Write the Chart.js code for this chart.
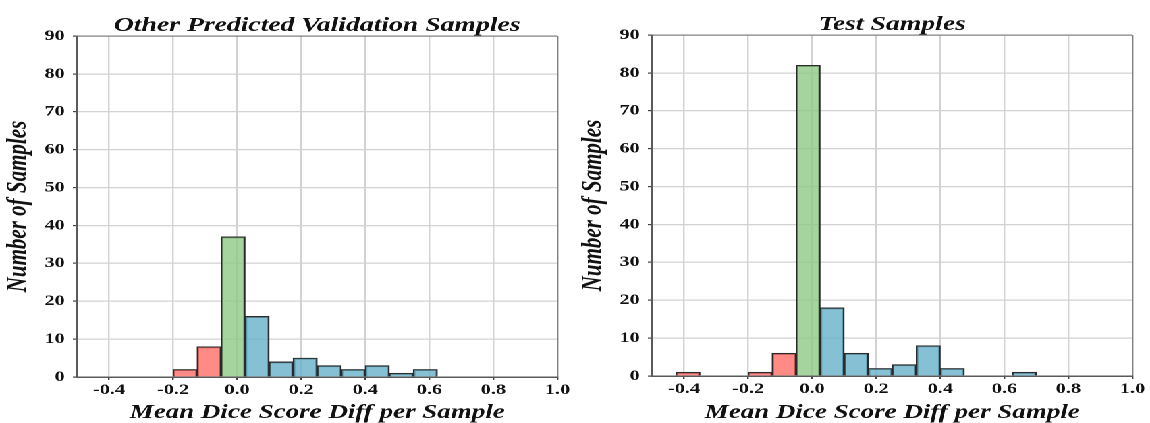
<!DOCTYPE html>
<html>
<head>
<meta charset="utf-8">
<script src="https://cdn.jsdelivr.net/npm/chart.js@4.4.0/dist/chart.umd.min.js"></script>
<style>
    html, body { margin: 0; padding: 0; background: #fff; }
    /* the figure is drawn narrow and stretched sideways to 1150px */
    #figure {
        width: 852px;
        height: 423px;
        display: flex;
        transform: scaleX(1.3498);
        transform-origin: 0 0;
    }
    .panel { position: relative; width: 426px; height: 423px; }
</style>
</head>
<body>
<div id="figure">
    <div class="panel"><canvas id="valChart"></canvas></div>
    <div class="panel"><canvas id="testChart"></canvas></div>
</div>
<script>
'use strict';

const binWidth = 0.075;
const xTicks = [-0.4, -0.2, 0.0, 0.2, 0.4, 0.6, 0.8, 1.0];

// other predicted validation samples: bin start -> count
const valBinStarts = [-0.2, -0.125, -0.05, 0.025, 0.1, 0.175, 0.25, 0.325, 0.4, 0.475, 0.55];
const valCounts = [2, 8, 37, 16, 4, 5, 3, 2, 3, 1, 2];

// test samples
const testBinStarts = [-0.425, -0.2, -0.125, -0.05, 0.025, 0.1, 0.175, 0.25, 0.325, 0.4, 0.625];
const testCounts = [1, 1, 6, 82, 18, 6, 2, 3, 8, 2, 1];

const RED = 'rgba(255, 109, 104, 0.8)';
const GREEN = 'rgba(142, 201, 134, 0.8)';
const BLUE = 'rgba(104, 176, 201, 0.8)';

function binColor(start) {
    if (start + binWidth <= -0.05 + 1e-9) return RED;
    if (start < 0.025 - 1e-9) return GREEN;
    return BLUE;
}

const serif = '"Liberation Serif", "Times New Roman", serif';
const tickFont = { family: serif, size: 15, weight: 'bold' };
const titleFont = { family: serif, size: 20.5, weight: 'bold', style: 'italic', lineHeight: 1.2 };

// keep the chart title centred over the plot area instead of the whole canvas
const centerTitle = {
    id: 'centerTitle',
    afterLayout(chart) {
        if (chart.titleBlock) {
            chart.titleBlock.left = chart.chartArea.left;
            chart.titleBlock.right = chart.chartArea.right;
        }
    },
};

function makeHist(id, title, starts, counts, box) {
    const points = starts.map((s, i) => ({ x: s + binWidth / 2, y: counts[i] }));

    return new Chart(document.getElementById(id), {
        type: 'bar',
        data: {
            datasets: [{
                data: points,
                backgroundColor: starts.map(binColor),
                borderColor: '#2a2a2a',
                borderWidth: 1.2,
                barPercentage: 1.0,
                categoryPercentage: 1.0,
            }],
        },
        plugins: [centerTitle],
        options: {
            responsive: true,
            maintainAspectRatio: false,
            devicePixelRatio: 2,
            animation: false,
            layout: { padding: { left: 0, right: 426 - box.right, top: 0, bottom: 0 } },
            plugins: {
                legend: { display: false },
                tooltip: { enabled: false },
                title: {
                    display: true,
                    text: title,
                    color: '#111',
                    font: titleFont,
                    padding: { top: box.top - 24.6 + 2, bottom: -2 },
                },
            },
            scales: {
                x: {
                    type: 'linear',
                    min: -0.5,
                    max: 1.0,
                    offset: false,
                    afterBuildTicks: (scale) => {
                        scale.ticks = xTicks.map(v => ({ value: v }));
                    },
                    afterFit: (scale) => { scale.height = 423 - box.bottom; },
                    ticks: {
                        font: tickFont,
                        color: '#111',
                        padding: 1,
                        maxRotation: 0,
                        callback: v => v.toFixed(1),
                    },
                    grid: {
                        offset: false,
                        color: c => (c.tick && c.tick.value === 1.0) ? '#808080' : '#d2d2d2',
                        lineWidth: 1.2,
                        tickLength: 3,
                        tickColor: '#444',
                    },
                    border: { display: true, color: '#5a5a5a', width: 1.5 },
                    title: {
                        display: true,
                        text: 'Mean Dice Score Diff per Sample',
                        color: '#111',
                        font: { family: serif, size: 20, weight: 'bold', style: 'italic', lineHeight: 1.0 },
                        padding: 0,
                    },
                },
                y: {
                    min: 0,
                    max: 90,
                    afterFit: (scale) => { scale.width = box.left; },
                    ticks: {
                        stepSize: 10,
                        font: tickFont,
                        color: '#111',
                        padding: 6,
                    },
                    grid: {
                        color: c => (c.tick && c.tick.value === 90) ? '#808080' : '#d2d2d2',
                        lineWidth: 1.2,
                        tickLength: 3,
                        tickColor: '#444',
                    },
                    border: { display: true, color: '#5a5a5a', width: 1.5 },
                    title: {
                        display: true,
                        text: 'Number of Samples',
                        color: '#111',
                        font: { family: serif, size: 21, weight: 'bold', style: 'italic', lineHeight: 1.2 },
                        padding: { top: 1, bottom: 0 },
                    },
                },
            },
        },
    });
}

makeHist('valChart', 'Other Predicted Validation Samples', valBinStarts, valCounts,
    { left: 57, right: 413, top: 36, bottom: 377 });
makeHist('testChart', 'Test Samples', testBinStarts, testCounts,
    { left: 57, right: 413, top: 35, bottom: 376 });
</script>
</body>
</html>
